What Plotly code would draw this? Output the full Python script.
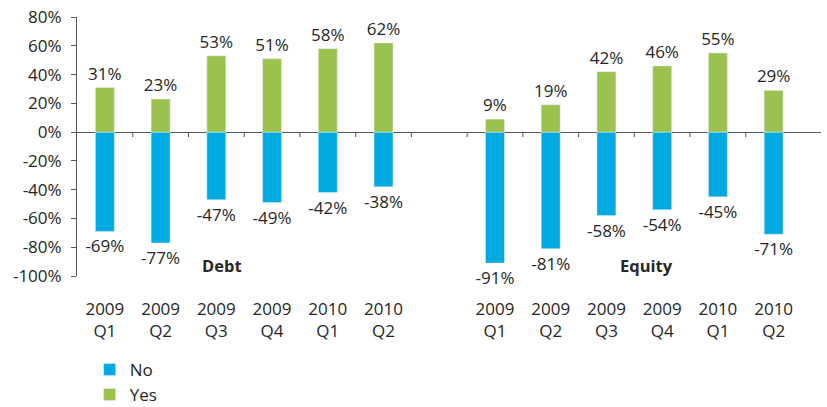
import plotly.graph_objects as go

# Survey results by quarter, Debt and Equity panels
quarters = ["2009<br>Q1", "2009<br>Q2", "2009<br>Q3", "2009<br>Q4", "2010<br>Q1", "2010<br>Q2"]
debt_yes = [31, 23, 53, 51, 58, 62]
debt_no = [-69, -77, -47, -49, -42, -38]
equity_yes = [9, 19, 42, 46, 55, 29]
equity_no = [-91, -81, -58, -54, -45, -71]
group_names = ["Debt", "Equity"]
y_ticks = [-100, -80, -60, -40, -20, 0, 20, 40, 60, 80]

GREEN = "#9BC24F"
BLUE = "#00A9E0"
TEXT = "#262626"
AXIS = "#595959"
FONT = "Open Sans"
FS = 17

# Category slots: Debt 0..5, empty slot 6, Equity 7..12
n = len(quarters)
debt_x = list(range(n))
equity_x = [n + 1 + i for i in range(n)]
xs = debt_x + equity_x
labels = quarters + quarters
yes_vals = debt_yes + equity_yes
no_vals = debt_no + equity_no

def pct(v):
    return f"{v}%"

fig = go.Figure()
fig.add_trace(go.Bar(
    x=xs, y=no_vals, name="No", marker_color=BLUE, width=0.34,
    text=[pct(v) for v in no_vals], textposition="outside", constraintext="none",
    textfont=dict(family=FONT, size=FS, color=TEXT), cliponaxis=False,
))
fig.add_trace(go.Bar(
    x=xs, y=yes_vals, name="Yes", marker_color=GREEN, width=0.34,
    text=[pct(v) for v in yes_vals], textposition="outside", constraintext="none",
    textfont=dict(family=FONT, size=FS, color=TEXT), cliponaxis=False,
))

# small tick marks hanging from the zero line between categories
shapes = []
for b in range(2 * n):
    shapes.append(dict(
        type="line", xref="x", yref="y", ysizemode="pixel", yanchor=0,
        x0=b + 0.5, x1=b + 0.5, y0=0, y1=-5,
        line=dict(color=AXIS, width=1),
    ))

annotations = [
    dict(x=2.1, y=-92.5, xref="x", yref="y", text=f"<b>{group_names[0]}</b>",
         showarrow=False, font=dict(family=FONT, size=16.5, color=TEXT)),
    dict(x=9.72, y=-92.5, xref="x", yref="y", text=f"<b>{group_names[1]}</b>",
         showarrow=False, font=dict(family=FONT, size=16.5, color=TEXT)),
]

fig.update_layout(
    width=827, height=407,
    margin=dict(l=77, r=6, t=17, b=131, autoexpand=False),
    paper_bgcolor="white", plot_bgcolor="white",
    barmode="relative",
    font=dict(family=FONT, size=FS, color=TEXT),
    shapes=shapes, annotations=annotations,
    showlegend=True,
    legend=dict(
        orientation="v", x=0.017, xanchor="left", y=-0.293, yanchor="top",
        font=dict(family=FONT, size=FS, color=TEXT),
        traceorder="normal", bgcolor="rgba(0,0,0,0)",
        tracegroupgap=0,
    ),
    xaxis=dict(
        range=[-0.5, 12.85], tickvals=xs, ticktext=labels,
        showline=False, showgrid=False, zeroline=False, ticks="",
        automargin=False,
        ticklabelstandoff=21, tickfont=dict(family=FONT, size=FS, color=TEXT),
    ),
    yaxis=dict(
        range=[-100, 80], tickvals=y_ticks, ticktext=[pct(v) for v in y_ticks],
        showline=True, linecolor=AXIS, linewidth=1,
        ticks="outside", ticklen=5, tickcolor=AXIS, automargin=False,
        showgrid=False, zeroline=True, zerolinecolor=AXIS, zerolinewidth=1,
        ticklabelstandoff=6, tickfont=dict(family=FONT, size=FS, color=TEXT),
    ),
)

fig.write_html("out.html")
